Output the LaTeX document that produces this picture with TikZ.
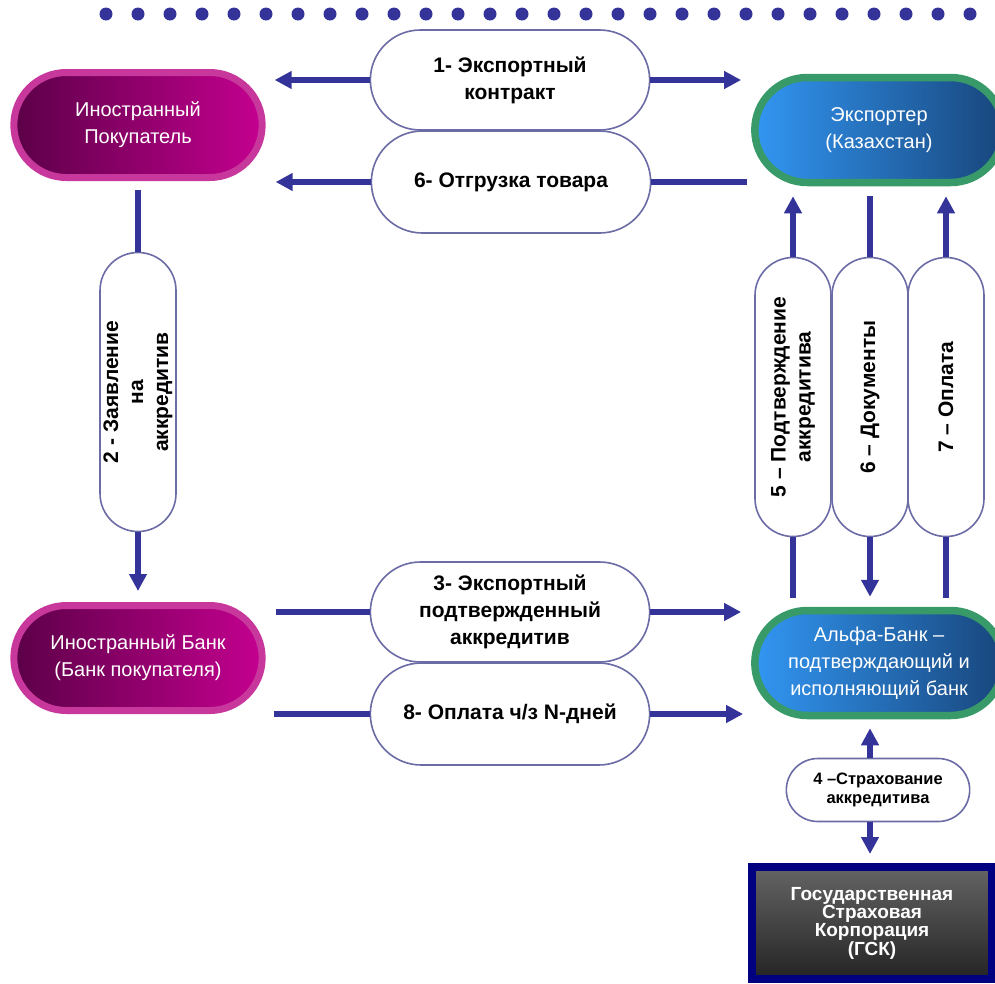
\documentclass[tikz,border=0pt]{standalone}
\usepackage{fontspec}
\setmainfont{Liberation Sans}
\usepackage{tikz}
\usetikzlibrary{shapes.misc, arrows.meta, calc}
\definecolor{arrowblue}{HTML}{333399}
\definecolor{boxline}{HTML}{6B6BA6}
\definecolor{pinkline}{HTML}{C8379B}
\definecolor{plumdark}{HTML}{5C0048}
\definecolor{plumlight}{HTML}{C4008F}
\definecolor{greenline}{HTML}{389A68}
\definecolor{bluelight}{HTML}{3296F2}
\definecolor{bluedark}{HTML}{18467C}
\definecolor{navyline}{HTML}{000080}
\definecolor{graytop}{HTML}{646464}
\definecolor{graybot}{HTML}{242424}
\tikzstyle{party} = [rounded rectangle, minimum width=255pt, minimum height=105pt, align=center, text=white, font=\fontsize{20}{27}\selectfont]
\tikzstyle{buyerside} = [party, draw=pinkline, line width=7pt, left color=plumdark, right color=plumlight]
\tikzstyle{sellerside} = [party, draw=greenline, line width=7.5pt, left color=bluelight, right color=bluedark]
\tikzstyle{gsk} = [rectangle, draw=navyline, line width=8pt, top color=graytop, bottom color=graybot, minimum width=240pt, minimum height=112pt, align=center, text=white, font=\bfseries\fontsize{19}{15.5}\selectfont]
\tikzstyle{stepbox} = [rounded rectangle, draw=boxline, line width=1.6pt, fill=white, align=center, minimum width=286pt, minimum height=100pt, font=\bfseries\fontsize{21}{27}\selectfont]
\tikzstyle{stepvert} = [stepbox, rotate=90, minimum width=281pt, minimum height=76pt, inner sep=1pt, font=\bfseries\fontsize{21}{25}\selectfont]
\tikzstyle{arrow} = [draw=arrowblue, line width=5.5pt, -{Triangle[length=17pt, width=17pt]}]
\tikzstyle{link} = [draw=arrowblue, line width=5.5pt]

\begin{document}
\begin{tikzpicture}[x=1pt, y=-1pt]
  \useasboundingbox (0,0) rectangle (995,983);
  \foreach \i in {0,...,28}
    \fill[arrowblue] (106+32*\i,14) circle[radius=6.5];

  \node[buyerside] (buyer) at (138,125) {Иностранный\\Покупатель};
  \node[buyerside] (bank) at (138,658) {Иностранный Банк\\(Банк покупателя)};
  \node[sellerside] (exp) at (879,130) {Экспортер\\(Казахстан)};
  \node[sellerside] (alfa) at (879,663) {Альфа-Банк –\\подтверждающий и\\исполняющий банк};
  \node[gsk] (gsk) at (872,923) {Государственная\\Страховая\\Корпорация\\(ГСК)};

  \node[stepbox] (c1) at (510,80) {1- Экспортный\\контракт};
  \node[stepbox, minimum height=102pt] (c6) at (511,182) {6- Отгрузка товара};
  \node[stepbox] (c3) at (510,612) {3- Экспортный\\подтвержденный\\аккредитив};
  \node[stepbox, minimum height=102pt] (c8) at (510,714) {8- Оплата ч/з N-дней};
  \node[stepvert] (b2) at (138,392) {2 - Заявление\\на\\аккредитив};
  \node[stepvert] (b5) at (793,397) {5 – Подтверждение\\аккредитива};
  \node[stepvert] (b6) at (870,397) {6 – Документы};
  \node[stepvert] (b7) at (946,397) {7 – Оплата};
  \node[stepbox, minimum width=190pt, minimum height=63pt, font=\bfseries\fontsize{16.5}{19}\selectfont] (c4) at (878,790) {4 –Страхование\\аккредитива};

  \draw[arrow, shorten >=9pt] (c1.west) -- (buyer.east |- c1.west);
  \draw[arrow, shorten >=10pt] (c1.east) -- (exp.west |- c1.east);
  \draw[arrow, shorten >=10pt] (c6.west) -- (buyer.east |- c6.west);
  \draw[link, shorten <=4pt] (exp.west |- c6.east) -- (c6.east);
  \draw[link, shorten <=9pt] (buyer.south) -- (b2.east);
  \draw[arrow, shorten >=11pt] (b2.west) -- (bank.north);
  \draw[link, shorten <=10pt] (bank.east |- c3.west) -- (c3.west);
  \draw[arrow, shorten >=10pt] (c3.east) -- (alfa.west |- c3.east);
  \draw[link, shorten <=8pt] (bank.east |- c8.west) -- (c8.west);
  \draw[arrow, shorten >=8pt] (c8.east) -- (alfa.west |- c8.east);
  \draw[link, shorten <=9pt] (b5.west |- alfa.north) -- (b5.west);
  \draw[arrow, shorten >=10pt] (b5.east) -- (b5.east |- exp.south);
  \draw[link, shorten <=10pt] (b6.east |- exp.south) -- (b6.east);
  \draw[arrow, shorten >=10pt] (b6.west) -- (b6.west |- alfa.north);
  \draw[link, shorten <=9pt] (b7.west |- alfa.north) -- (b7.west);
  \draw[arrow, shorten >=10pt] (b7.east) -- (b7.east |- exp.south);
  \draw[arrow, shorten >=9pt] ([xshift=-8pt]c4.north) -- ([xshift=-8pt]c4.north |- alfa.south);
  \draw[arrow, shorten >=9pt] ([xshift=-8pt]c4.south) -- ([xshift=-8pt]c4.south |- gsk.north);
\end{tikzpicture}
\end{document}
